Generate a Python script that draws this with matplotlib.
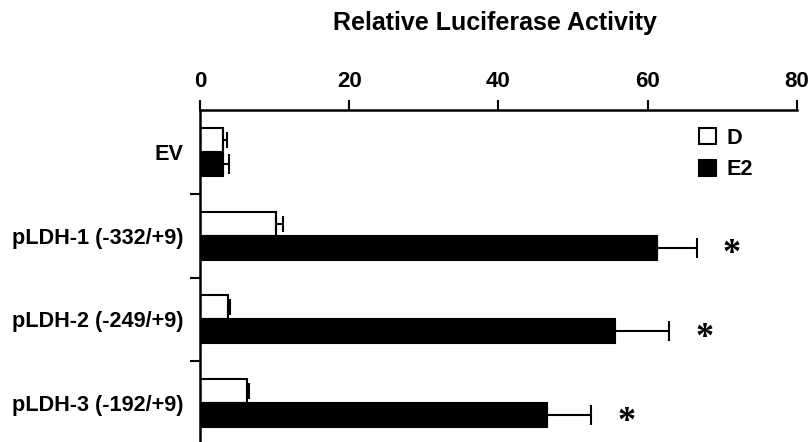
import matplotlib.pyplot as plt
import numpy as np

# Relative luciferase activity, vehicle (D) vs estradiol (E2)
constructs = ['EV', 'pLDH-1 (-332/+9)', 'pLDH-2 (-249/+9)', 'pLDH-3 (-192/+9)']
d_mean = [3.1, 10.2, 3.7, 6.3]
d_err = [0.5, 0.9, 0.3, 0.2]
e2_mean = [3.1, 61.2, 55.6, 46.5]
e2_err = [0.8, 5.4, 7.3, 5.9]
significant = [False, True, True, True]

plt.rcParams['font.family'] = ['Liberation Sans', 'DejaVu Sans']
plt.rcParams['font.weight'] = 'bold'

fig = plt.figure(figsize=(8.12, 4.42), dpi=100)
ax = fig.add_axes([0.2463, -0.0068, 0.7352, 0.7578])

y = np.arange(len(constructs))
h = 0.287
ekw = dict(elinewidth=1.5, capthick=1.5, ecolor='black')
ax.barh(y - h / 2, d_mean, height=h, color='white', edgecolor='black', linewidth=1.5,
        xerr=[np.zeros(len(d_err)), d_err], capsize=5.5, error_kw=ekw, label='D')
ax.barh(y + h / 2, e2_mean, height=h, color='black', edgecolor='black', linewidth=1.5,
        xerr=[np.zeros(len(e2_err)), e2_err], capsize=7, error_kw=ekw, label='E2')

# significance stars
for i, sig in enumerate(significant):
    if sig:
        ax.text(e2_mean[i] + e2_err[i] + 4.7, y[i] + h / 2 + 0.085, '*',
                fontsize=26, family='Liberation Serif', fontweight='bold',
                ha='center', va='center')

ax.set_xlim(0, 80)
ax.set_ylim(3.5, -0.5)
ax.set_xticks([0, 20, 40, 60, 80])
ax.set_yticks([0.5, 1.5, 2.5])
ax.set_yticks(y, labels=constructs, minor=True)
ax.set_yticklabels([])
ax.tick_params(axis='y', which='minor', length=0, pad=12, labelsize=15.6)
ax.tick_params(axis='y', which='major', direction='out', length=7, width=1.5)
ax.xaxis.tick_top()
ax.tick_params(axis='x', direction='out', length=7, width=1.5, pad=6, labelsize=16)
for s in ['right', 'bottom']:
    ax.spines[s].set_visible(False)
for s in ['left', 'top']:
    ax.spines[s].set_linewidth(1.8)

ax.legend(loc='upper left', bbox_to_anchor=(0.818, 0.98), frameon=False, borderpad=0,
          handlelength=0.8, handleheight=0.8, handletextpad=0.45, labelspacing=0.5,
          prop=dict(size=15.6, weight='bold'))

fig.text(0.61, 0.948, 'Relative Luciferase Activity', ha='center', va='center',
         fontsize=18, fontweight='bold')

fig.savefig('out.png', dpi=100)
